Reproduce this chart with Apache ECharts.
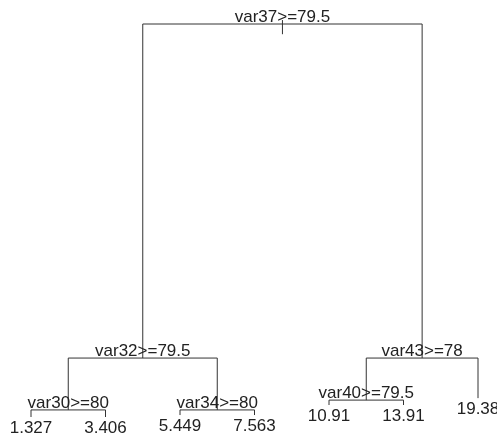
<!DOCTYPE html>
<html>
<head>
<meta charset="utf-8">
<script src="https://cdn.jsdelivr.net/npm/echarts@6/dist/echarts.min.js"></script>
<style>
  html, body { margin: 0; padding: 0; background: #fff; }
  #main { width: 497px; height: 437px; }
</style>
</head>
<body>
<div id="main"></div>
<script>
  // 树的节点 (rpart 风格)
  var nodeLabels = ['var37>=79.5', 'var32>=79.5', 'var30>=80', '1.327', '3.406', 'var34>=80', '5.449', '7.563',
    'var43>=78', 'var40>=79.5', '10.91', '13.91', '19.38'];
  var parentIdx = [-1, 0, 1, 2, 2, 1, 5, 5, 0, 8, 9, 9, 8];
  // x: 叶子序号, y: 节点高度
  var nodeX = [4.375, 2.5, 1.5, 1, 2, 3.5, 3, 4, 6.25, 5.5, 5, 6, 7];
  var nodeY = [100, 15, 1.8, 0, 0, 1.8, 0.5, 0.5, 15, 4.3, 3.05, 3.05, 4.8];
  var rootStub = [101, 97.4];

  var children = nodeLabels.map(function () { return []; });
  parentIdx.forEach(function (p, i) { if (p >= 0) children[p].push(i); });

  var data = nodeLabels.map(function (name, i) {
    return [nodeX[i], nodeY[i], i];
  });

  var lineStyle = { stroke: '#333', lineWidth: 1 };
  var font = '17px "Liberation Sans", Arial, sans-serif';

  function renderItem(params, api) {
    var i = api.value(2);
    var pt = api.coord([nodeX[i], nodeY[i]]);
    var items = [];
    var topY;
    if (parentIdx[i] < 0) {
      topY = api.coord([nodeX[i], rootStub[0]])[1];
      var bot = api.coord([nodeX[i], rootStub[1]])[1];
      items.push({ type: 'line', shape: { x1: pt[0], y1: topY, x2: pt[0], y2: bot }, style: lineStyle });
    } else {
      topY = api.coord([nodeX[i], nodeY[parentIdx[i]]])[1];
      items.push({ type: 'line', shape: { x1: pt[0], y1: topY, x2: pt[0], y2: pt[1] }, style: lineStyle });
    }
    var ch = children[i];
    if (ch.length) {
      var xl = api.coord([nodeX[ch[0]], nodeY[i]])[0];
      var xr = api.coord([nodeX[ch[ch.length - 1]], nodeY[i]])[0];
      items.push({ type: 'line', shape: { x1: xl, y1: pt[1], x2: xr, y2: pt[1] }, style: lineStyle });
      items.push({ type: 'text', x: pt[0], y: pt[1] + 2, style: {
        text: nodeLabels[i], font: font, fill: '#222', align: 'center', verticalAlign: 'bottom' } });
    } else {
      items.push({ type: 'text', x: pt[0], y: pt[1] + 3, style: {
        text: nodeLabels[i], font: font, fill: '#222', align: 'center', verticalAlign: 'top' } });
    }
    return { type: 'group', children: items };
  }

  var myChart = echarts.init(document.getElementById('main'));
  myChart.setOption({
    animation: false,
    grid: { left: 31, right: 19, top: 24, bottom: 20 },
    xAxis: { type: 'value', min: 1, max: 7, show: false },
    yAxis: { type: 'value', min: 0, max: 100, show: false },
    series: [{
      type: 'custom',
      renderItem: renderItem,
      data: data,
      clip: false
    }]
  });
</script>
</body>
</html>
